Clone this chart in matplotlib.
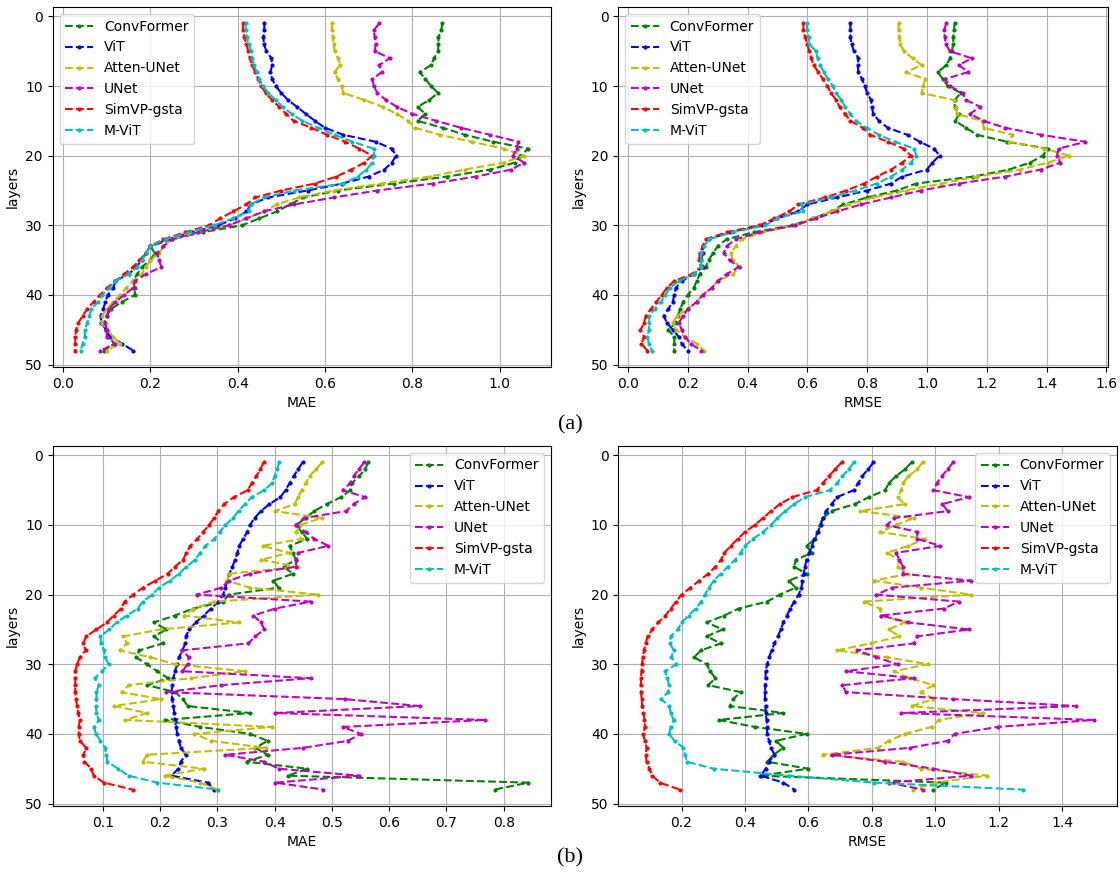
import numpy as np
from matplotlib import pyplot as plt

layers = np.arange(1, 49)
names = ['ConvFormer', 'ViT', 'Atten-UNet', 'UNet', 'SimVP-gsta', 'M-ViT']
styles = ['g.--', 'b.--', 'y.--', 'm.--', 'r.--', 'c.--']

# (a) MAE per layer
conv_mae_a = [0.869, 0.866, 0.86, 0.86, 0.859, 0.85, 0.843, 0.817, 0.83, 0.843,
              0.859, 0.839, 0.812, 0.83, 0.812, 0.87, 0.92, 0.986, 1.066, 1.047,
              1.035, 0.978, 0.88, 0.757, 0.63, 0.55, 0.52, 0.49, 0.45, 0.41,
              0.32, 0.25, 0.2, 0.21, 0.2, 0.18, 0.17, 0.16, 0.165, 0.164,
              0.135, 0.11, 0.10, 0.094, 0.098, 0.106, 0.117, 0.094]
vit_mae_a = [0.461, 0.461, 0.459, 0.46, 0.466, 0.477, 0.479, 0.475, 0.479, 0.487,
             0.5, 0.515, 0.536, 0.556, 0.577, 0.6, 0.642, 0.716, 0.753, 0.763,
             0.753, 0.736, 0.7, 0.64, 0.56, 0.47, 0.43, 0.42, 0.395, 0.355,
             0.295, 0.24, 0.2, 0.19, 0.18, 0.168, 0.15, 0.12, 0.115, 0.102,
             0.097, 0.092, 0.086, 0.088, 0.098, 0.11, 0.135, 0.161]
atten_mae_a = [0.616, 0.616, 0.618, 0.62, 0.622, 0.63, 0.634, 0.622, 0.63, 0.638,
               0.642, 0.69, 0.732, 0.765, 0.79, 0.806, 0.863, 0.937, 1.01, 1.056,
               1.01, 0.92, 0.84, 0.73, 0.62, 0.54, 0.49, 0.46, 0.42, 0.38,
               0.31, 0.25, 0.23, 0.22, 0.2, 0.19, 0.18, 0.16, 0.145, 0.13,
               0.115, 0.1, 0.09, 0.09, 0.1, 0.115, 0.13, 0.1]
unet_mae_a = [0.724, 0.712, 0.714, 0.716, 0.714, 0.749, 0.724, 0.73, 0.708, 0.712,
              0.72, 0.74, 0.765, 0.8, 0.855, 0.912, 0.978, 1.043, 1.039, 1.031,
              1.056, 1.027, 0.945, 0.847, 0.72, 0.62, 0.53, 0.46, 0.42, 0.38,
              0.31, 0.25, 0.23, 0.215, 0.22, 0.225, 0.19, 0.165, 0.16, 0.14,
              0.12, 0.105, 0.1, 0.097, 0.1, 0.1, 0.12, 0.085]
simvp_mae_a = [0.412, 0.412, 0.415, 0.42, 0.424, 0.428, 0.433, 0.44, 0.447, 0.454,
               0.464, 0.479, 0.495, 0.511, 0.528, 0.569, 0.605, 0.646, 0.679, 0.708,
               0.69, 0.66, 0.626, 0.577, 0.5, 0.44, 0.42, 0.39, 0.36, 0.335,
               0.28, 0.23, 0.2, 0.19, 0.175, 0.16, 0.14, 0.12, 0.1, 0.085,
               0.07, 0.055, 0.045, 0.035, 0.03, 0.028, 0.028, 0.028]
mvit_mae_a = [0.418, 0.418, 0.421, 0.425, 0.431, 0.433, 0.437, 0.444, 0.45, 0.458,
              0.47, 0.487, 0.503, 0.524, 0.548, 0.585, 0.622, 0.663, 0.712, 0.712,
              0.708, 0.695, 0.675, 0.642, 0.53, 0.46, 0.43, 0.425, 0.39, 0.345,
              0.29, 0.235, 0.2, 0.19, 0.18, 0.17, 0.15, 0.12, 0.105, 0.09,
              0.08, 0.065, 0.06, 0.055, 0.05, 0.05, 0.045, 0.04]

# (a) RMSE per layer
conv_rmse_a = [1.093, 1.09, 1.088, 1.088, 1.083, 1.077, 1.065, 1.036, 1.053, 1.07,
               1.113, 1.093, 1.093, 1.107, 1.095, 1.13, 1.167, 1.268, 1.405, 1.387,
               1.345, 1.274, 1.155, 0.964, 0.9, 0.8, 0.72, 0.68, 0.62, 0.55,
               0.42, 0.33, 0.3, 0.285, 0.27, 0.26, 0.24, 0.23, 0.22, 0.2,
               0.185, 0.175, 0.167, 0.16, 0.135, 0.155, 0.155, 0.155]
vit_rmse_a = [0.744, 0.744, 0.744, 0.748, 0.756, 0.771, 0.768, 0.771, 0.783, 0.792,
              0.8, 0.813, 0.815, 0.821, 0.839, 0.869, 0.935, 0.976, 1.024, 1.042,
              1.018, 1.0, 0.917, 0.88, 0.8, 0.7, 0.6, 0.57, 0.5, 0.45,
              0.34, 0.27, 0.25, 0.25, 0.245, 0.25, 0.22, 0.18, 0.16, 0.155,
              0.15, 0.135, 0.12, 0.13, 0.15, 0.17, 0.18, 0.2]
atten_rmse_a = [0.905, 0.905, 0.908, 0.911, 0.923, 0.952, 0.982, 0.929, 0.994, 0.988,
                0.982, 1.09, 1.096, 1.1, 1.185, 1.19, 1.286, 1.274, 1.393, 1.476,
                1.405, 1.31, 1.167, 1.048, 0.93, 0.82, 0.74, 0.68, 0.62, 0.56,
                0.45, 0.38, 0.36, 0.345, 0.35, 0.375, 0.35, 0.3, 0.28, 0.25,
                0.23, 0.2, 0.165, 0.15, 0.16, 0.19, 0.23, 0.255]
unet_rmse_a = [1.065, 1.057, 1.06, 1.063, 1.077, 1.149, 1.107, 1.137, 1.06, 1.077,
               1.119, 1.13, 1.179, 1.143, 1.19, 1.262, 1.381, 1.53, 1.44, 1.435,
               1.446, 1.381, 1.262, 1.107, 0.98, 0.88, 0.78, 0.7, 0.63, 0.56,
               0.44, 0.36, 0.33, 0.32, 0.34, 0.37, 0.33, 0.3, 0.28, 0.25,
               0.23, 0.2, 0.185, 0.17, 0.18, 0.19, 0.21, 0.245]
simvp_rmse_a = [0.587, 0.587, 0.593, 0.599, 0.607, 0.613, 0.621, 0.637, 0.652, 0.667,
                0.679, 0.696, 0.708, 0.726, 0.744, 0.786, 0.81, 0.869, 0.923, 0.946,
                0.917, 0.88, 0.833, 0.79, 0.73, 0.66, 0.57, 0.54, 0.49, 0.44,
                0.33, 0.26, 0.25, 0.24, 0.238, 0.244, 0.214, 0.155, 0.13, 0.113,
                0.095, 0.077, 0.06, 0.054, 0.042, 0.054, 0.045, 0.065]
mvit_rmse_a = [0.599, 0.599, 0.604, 0.607, 0.629, 0.634, 0.643, 0.655, 0.669, 0.685,
               0.696, 0.714, 0.726, 0.744, 0.762, 0.798, 0.839, 0.893, 0.958, 0.964,
               0.946, 0.917, 0.88, 0.833, 0.76, 0.68, 0.58, 0.585, 0.5, 0.46,
               0.35, 0.27, 0.255, 0.245, 0.245, 0.245, 0.22, 0.17, 0.14, 0.125,
               0.11, 0.09, 0.07, 0.07, 0.07, 0.065, 0.07, 0.08]

# (b) MAE per layer
conv_mae_b = [0.563, 0.558, 0.547, 0.535, 0.532, 0.516, 0.491, 0.469, 0.454, 0.438,
              0.447, 0.457, 0.426, 0.432, 0.437, 0.416, 0.432, 0.398, 0.407, 0.32,
              0.31, 0.258, 0.226, 0.189, 0.211, 0.189, 0.205, 0.164, 0.158, 0.177,
              0.195, 0.214, 0.178, 0.226, 0.24, 0.248, 0.357, 0.208, 0.27, 0.357,
              0.388, 0.366, 0.388, 0.351, 0.457, 0.423, 0.843, 0.784]
vit_mae_b = [0.449, 0.441, 0.433, 0.426, 0.419, 0.41, 0.391, 0.376, 0.365, 0.357,
             0.352, 0.345, 0.338, 0.335, 0.331, 0.326, 0.321, 0.317, 0.314, 0.31,
             0.302, 0.289, 0.276, 0.262, 0.251, 0.245, 0.244, 0.239, 0.233, 0.23,
             0.226, 0.223, 0.221, 0.22, 0.221, 0.223, 0.225, 0.226, 0.228, 0.23,
             0.233, 0.236, 0.245, 0.236, 0.232, 0.22, 0.283, 0.295]
atten_mae_b = [0.483, 0.472, 0.461, 0.454, 0.447, 0.441, 0.435, 0.401, 0.482, 0.444,
               0.438, 0.447, 0.379, 0.426, 0.376, 0.441, 0.32, 0.317, 0.357, 0.475,
               0.295, 0.258, 0.242, 0.337, 0.201, 0.136, 0.142, 0.13, 0.183, 0.226,
               0.348, 0.254, 0.145, 0.133, 0.201, 0.12, 0.177, 0.139, 0.395, 0.26,
               0.289, 0.385, 0.177, 0.17, 0.276, 0.208, 0.27, 0.3]
unet_mae_b = [0.556, 0.547, 0.538, 0.532, 0.519, 0.558, 0.538, 0.525, 0.451, 0.438,
              0.454, 0.469, 0.494, 0.441, 0.438, 0.437, 0.357, 0.32, 0.307, 0.264,
              0.463, 0.401, 0.363, 0.376, 0.382, 0.366, 0.354, 0.239, 0.25, 0.248,
              0.239, 0.463, 0.307, 0.211, 0.522, 0.653, 0.401, 0.768, 0.519, 0.55,
              0.528, 0.45, 0.314, 0.382, 0.407, 0.547, 0.401, 0.485]
simvp_mae_b = [0.381, 0.375, 0.368, 0.36, 0.353, 0.329, 0.312, 0.302, 0.294, 0.286,
               0.275, 0.265, 0.253, 0.246, 0.24, 0.226, 0.213, 0.192, 0.17, 0.153,
               0.138, 0.132, 0.119, 0.107, 0.089, 0.071, 0.066, 0.07, 0.06, 0.055,
               0.052, 0.052, 0.052, 0.052, 0.053, 0.055, 0.057, 0.06, 0.058, 0.058,
               0.06, 0.071, 0.066, 0.068, 0.08, 0.084, 0.102, 0.152]
mvit_mae_b = [0.408, 0.404, 0.4, 0.395, 0.382, 0.36, 0.348, 0.337, 0.327, 0.314,
              0.304, 0.295, 0.279, 0.27, 0.261, 0.246, 0.233, 0.217, 0.198, 0.186,
              0.17, 0.161, 0.142, 0.124, 0.111, 0.096, 0.097, 0.102, 0.104, 0.11,
              0.099, 0.086, 0.093, 0.089, 0.089, 0.088, 0.089, 0.093, 0.085, 0.088,
              0.096, 0.104, 0.106, 0.108, 0.127, 0.145, 0.195, 0.301]

# (b) RMSE per layer
conv_rmse_b = [0.926, 0.904, 0.876, 0.853, 0.842, 0.791, 0.746, 0.673, 0.645, 0.637,
               0.628, 0.622, 0.594, 0.611, 0.56, 0.555, 0.594, 0.538, 0.56, 0.51,
               0.47, 0.38, 0.335, 0.279, 0.33, 0.279, 0.324, 0.262, 0.239, 0.279,
               0.29, 0.307, 0.284, 0.386, 0.363, 0.352, 0.521, 0.318, 0.431, 0.594,
               0.498, 0.521, 0.49, 0.47, 0.6, 0.448, 1.033, 0.994]
vit_rmse_b = [0.805, 0.788, 0.769, 0.757, 0.743, 0.69, 0.673, 0.656, 0.645, 0.639,
              0.63, 0.619, 0.611, 0.603, 0.594, 0.589, 0.585, 0.581, 0.578, 0.569,
              0.555, 0.543, 0.532, 0.521, 0.513, 0.504, 0.493, 0.484, 0.476, 0.47,
              0.465, 0.465, 0.464, 0.463, 0.463, 0.465, 0.465, 0.468, 0.47, 0.47,
              0.476, 0.482, 0.493, 0.476, 0.465, 0.45, 0.521, 0.555]
atten_rmse_b = [0.96, 0.943, 0.915, 0.898, 0.893, 0.881, 0.904, 0.763, 0.932, 0.876,
                0.825, 0.966, 0.915, 0.848, 0.887, 0.881, 0.915, 0.808, 0.955, 1.112,
                0.774, 0.825, 0.83, 0.904, 0.853, 0.887, 0.797, 0.69, 0.848, 0.977,
                0.87, 0.92, 0.994, 0.955, 0.994, 0.926, 1.151, 1.011, 0.988, 0.904,
                0.853, 0.819, 0.645, 0.898, 0.955, 1.163, 1.0, 0.93]
unet_rmse_b = [1.056, 1.039, 1.02, 1.005, 0.994, 1.106, 1.022, 1.039, 0.87, 0.848,
               0.943, 0.943, 1.016, 0.876, 0.887, 0.898, 0.898, 1.112, 0.864, 0.814,
               1.073, 1.028, 0.83, 0.915, 1.106, 0.943, 0.932, 0.752, 0.814, 0.881,
               0.718, 0.932, 0.707, 0.718, 1.056, 1.444, 0.893, 1.5, 1.197, 1.061,
               1.039, 0.92, 0.673, 0.842, 0.994, 1.112, 0.853, 0.96]
simvp_rmse_b = [0.705, 0.684, 0.664, 0.645, 0.626, 0.549, 0.51, 0.482, 0.457, 0.431,
                0.4, 0.377, 0.355, 0.335, 0.324, 0.307, 0.284, 0.256, 0.228, 0.2,
                0.183, 0.166, 0.149, 0.127, 0.108, 0.093, 0.087, 0.082, 0.078, 0.076,
                0.074, 0.072, 0.072, 0.073, 0.074, 0.076, 0.08, 0.083, 0.085, 0.078,
                0.085, 0.09, 0.087, 0.09, 0.099, 0.108, 0.132, 0.194]
mvit_rmse_b = [0.743, 0.727, 0.707, 0.69, 0.667, 0.589, 0.555, 0.527, 0.502, 0.482,
               0.457, 0.425, 0.4, 0.386, 0.369, 0.346, 0.324, 0.301, 0.288, 0.273,
               0.262, 0.245, 0.223, 0.2, 0.189, 0.166, 0.164, 0.175, 0.168, 0.183,
               0.149, 0.155, 0.161, 0.158, 0.136, 0.161, 0.166, 0.175, 0.166, 0.161,
               0.178, 0.206, 0.211, 0.217, 0.301, 0.538, 0.808, 1.275]


def plotProfiles(ax, series, xlabel, loc):
    for vals, style, name in zip(series, styles, names):
        ax.plot(vals, layers, style, label=name, markersize=4, linewidth=1.5)
    ax.invert_yaxis()
    ax.set_yticks([0, 10, 20, 30, 40, 50])
    ax.set_xlabel(xlabel)
    ax.set_ylabel('layers')
    ax.grid(True)
    ax.legend(loc=loc)


def main():
    fig = plt.figure(figsize=(11.2, 8.77), dpi=100)
    axA1 = fig.add_axes([0.047, 0.5815, 0.445, 0.4105])
    axA2 = fig.add_axes([0.552, 0.5815, 0.437, 0.4105])
    axB1 = fig.add_axes([0.047, 0.081, 0.445, 0.4105])
    axB2 = fig.add_axes([0.552, 0.081, 0.445, 0.4105])

    plotProfiles(axA1, [conv_mae_a, vit_mae_a, atten_mae_a, unet_mae_a, simvp_mae_a, mvit_mae_a], 'MAE', 'upper left')
    plotProfiles(axA2, [conv_rmse_a, vit_rmse_a, atten_rmse_a, unet_rmse_a, simvp_rmse_a, mvit_rmse_a], 'RMSE', 'upper left')
    plotProfiles(axB1, [conv_mae_b, vit_mae_b, atten_mae_b, unet_mae_b, simvp_mae_b, mvit_mae_b], 'MAE', 'upper right')
    plotProfiles(axB2, [conv_rmse_b, vit_rmse_b, atten_rmse_b, unet_rmse_b, simvp_rmse_b, mvit_rmse_b], 'RMSE', 'upper right')

    fig.text(0.509, 0.516, '(a)', ha='center', va='center', family='Liberation Serif', fontsize=16)
    fig.text(0.509, 0.022, '(b)', ha='center', va='center', family='Liberation Serif', fontsize=16)

    fig.savefig('out.png', dpi=100)


if __name__ == "__main__":
    main()
